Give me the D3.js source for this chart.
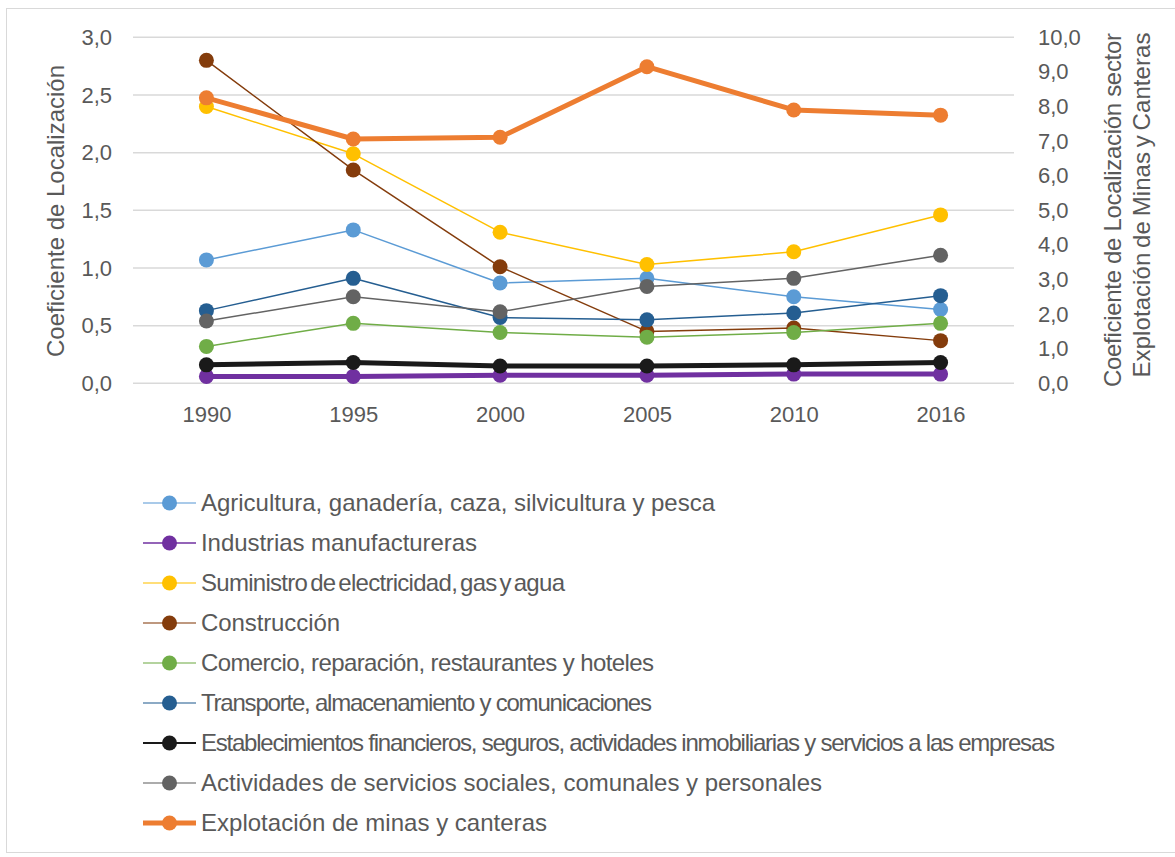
<!DOCTYPE html>
<html>
<head>
<meta charset="utf-8">
<script src="https://cdn.jsdelivr.net/npm/d3@7"></script>
<style>
  html, body { margin: 0; padding: 0; background: #fff; }
  svg { display: block; font-family: "Liberation Sans", Arial, sans-serif; }
</style>
</head>
<body>
<svg id="chart" width="1175" height="857"></svg>
<script>
// Years on the horizontal axis
const years = ["1990", "1995", "2000", "2005", "2010", "2016"];

// Location coefficients per sector (left axis)
const agricultura      = [1.07, 1.33, 0.87, 0.91, 0.75, 0.64];
const industrias       = [0.06, 0.06, 0.07, 0.07, 0.08, 0.08];
const suministro       = [2.40, 1.99, 1.31, 1.03, 1.14, 1.46];
const construccion     = [2.80, 1.85, 1.01, 0.45, 0.48, 0.37];
const comercio         = [0.32, 0.52, 0.44, 0.40, 0.44, 0.52];
const transporte       = [0.63, 0.91, 0.57, 0.55, 0.61, 0.76];
const establecimientos = [0.16, 0.18, 0.15, 0.15, 0.16, 0.18];
const actividades      = [0.54, 0.75, 0.62, 0.84, 0.91, 1.11];

// Mining and quarrying (right axis)
const explotacion      = [8.25, 7.06, 7.11, 9.15, 7.90, 7.75];

// Axis ticks
const leftTicks  = [0, 0.5, 1.0, 1.5, 2.0, 2.5, 3.0];
const rightTicks = [0, 1, 2, 3, 4, 5, 6, 7, 8, 9, 10];

const series = [
  { name: "Agricultura, ganadería, caza, silvicultura y pesca", values: agricultura, color: "#5B9BD5", width: 1.5, axis: "left", labelLength: 514 },
  { name: "Industrias manufactureras", values: industrias, color: "#7030A0", width: 5, legendWidth: 1.5, axis: "left", labelLength: 276 },
  { name: "Suministro de electricidad, gas y agua", values: suministro, color: "#FFC000", width: 1.5, axis: "left", labelLength: 364, tight: true },
  { name: "Construcción", values: construccion, color: "#843C0C", width: 1.5, axis: "left", labelLength: 139 },
  { name: "Comercio, reparación, restaurantes y hoteles", values: comercio, color: "#70AD47", width: 1.5, axis: "left", labelLength: 453 },
  { name: "Transporte, almacenamiento y comunicaciones", values: transporte, color: "#255E91", width: 1.5, axis: "left", labelLength: 451 },
  { name: "Establecimientos financieros, seguros, actividades inmobiliarias y servicios a las empresas", values: establecimientos, color: "#1A1A1A", width: 5, legendWidth: 2, axis: "left", labelLength: 854 },
  { name: "Actividades de servicios sociales, comunales y personales", values: actividades, color: "#636363", width: 1.5, axis: "left", labelLength: 621 },
  { name: "Explotación de minas y canteras", values: explotacion, color: "#ED7D31", width: 5, legendWidth: 5, axis: "right", labelLength: 346 }
];

const svg = d3.select("#chart");
const textColor = "#595959";
const fmt = v => d3.format(".1f")(v).replace(".", ",");

// Outer frame
svg.append("rect")
  .attr("x", 6.5).attr("y", 8.5).attr("width", 1180).attr("height", 844)
  .attr("fill", "#fff").attr("stroke", "#D9D9D9").attr("stroke-width", 1);

const plot = { left: 133, right: 1014, top: 37.3, bottom: 383.3 };

const x = d3.scalePoint().domain(years).range([plot.left, plot.right]).padding(0.5);
const yL = d3.scaleLinear().domain([0, 3]).range([plot.bottom, plot.top]);
const yR = d3.scaleLinear().domain([0, 10]).range([plot.bottom, plot.top]);

// Gridlines
svg.append("g").selectAll("line").data(leftTicks).join("line")
  .attr("x1", plot.left).attr("x2", plot.right)
  .attr("y1", d => yL(d)).attr("y2", d => yL(d))
  .attr("stroke", "#D9D9D9").attr("stroke-width", 1.5);

// Left axis
const axL = svg.append("g").attr("transform", `translate(${plot.left},0)`)
  .call(d3.axisLeft(yL).tickValues(leftTicks).tickFormat(fmt).tickSize(0).tickPadding(21));
axL.select(".domain").remove();
axL.selectAll("text").attr("fill", textColor).style("font-size", "22px");

// Right axis
const axR = svg.append("g").attr("transform", `translate(${plot.right},0)`)
  .call(d3.axisRight(yR).tickValues(rightTicks).tickFormat(fmt).tickSize(0).tickPadding(24));
axR.select(".domain").remove();
axR.selectAll("text").attr("fill", textColor).style("font-size", "22px");

// Bottom axis
const axB = svg.append("g").attr("transform", `translate(0,${plot.bottom})`)
  .call(d3.axisBottom(x).tickSize(0).tickPadding(23));
axB.select(".domain").remove();
axB.selectAll("text").attr("fill", textColor).style("font-size", "22px");

// Axis titles
svg.append("text")
  .attr("transform", `translate(64,211) rotate(-90)`)
  .attr("text-anchor", "middle").attr("fill", textColor)
  .style("font-size", "24px")
  .attr("textLength", 292).attr("lengthAdjust", "spacing")
  .text("Coeficiente de Localización");

svg.append("text")
  .attr("transform", `translate(1121,210) rotate(-90)`)
  .attr("text-anchor", "middle").attr("fill", textColor)
  .style("font-size", "24px")
  .attr("textLength", 354).attr("lengthAdjust", "spacing")
  .text("Coeficiente de Localización sector");

svg.append("text")
  .attr("transform", `translate(1150,205) rotate(-90)`)
  .attr("text-anchor", "middle").attr("fill", textColor)
  .style("font-size", "24px").style("word-spacing", "-2px")
  .attr("textLength", 345).attr("lengthAdjust", "spacing")
  .text("Explotación de Minas y Canteras");

// Series lines and markers
const gSeries = svg.append("g");
series.forEach(s => {
  const y = s.axis === "left" ? yL : yR;
  const line = d3.line().x((d, i) => x(years[i])).y(d => y(d));
  const g = gSeries.append("g");
  g.append("path").datum(s.values)
    .attr("d", line).attr("fill", "none")
    .attr("stroke", s.color).attr("stroke-width", s.width)
    .attr("stroke-linejoin", "round");
  g.selectAll("circle").data(s.values).join("circle")
    .attr("cx", (d, i) => x(years[i])).attr("cy", d => y(d))
    .attr("r", 7.5).attr("fill", s.color);
});

// Legend
const legend = svg.append("g").attr("transform", "translate(143,503)");
series.forEach((s, i) => {
  const g = legend.append("g").attr("transform", `translate(0,${i * 40})`);
  g.append("line").attr("x1", 0).attr("x2", 53).attr("y1", 0).attr("y2", 0)
    .attr("stroke", s.color).attr("stroke-width", s.legendWidth || 1.5)
    .attr("stroke-opacity", s.legendWidth ? 1 : 0.7);
  g.append("circle").attr("cx", 26.5).attr("cy", 0).attr("r", 7.5).attr("fill", s.color);
  const t = g.append("text").attr("x", 58).attr("y", 0).attr("dy", "0.35em")
    .attr("fill", textColor).style("font-size", "24px")
    .attr("textLength", s.labelLength).attr("lengthAdjust", "spacing")
    .text(s.name);
  if (s.tight) t.style("word-spacing", "-3px");
});
</script>
</body>
</html>
